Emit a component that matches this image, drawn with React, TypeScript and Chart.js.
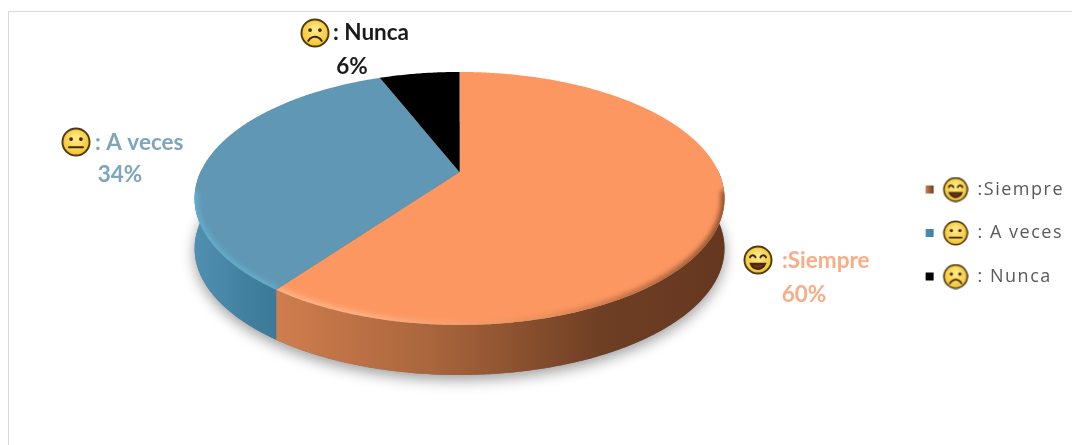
import React, { useEffect, useRef } from "react";
import { Chart, registerables } from "chart.js";

Chart.register(...registerables);

const categories = [":Siempre", ": A veces", ": Nunca"];
const percentages = [60, 34, 6];
const faces = ["smile", "neutral", "sad"];
const sliceColors = ["#FD9761", "#6097B4", "#000000"];
const labelColors = ["#F8AC88", "#7DA5BD", "#1A1A1A"];
const rimColors = [["#FFB488", "#E88E5A", "#8A4E2C"], ["#62AECD", "#5FB0D0", "#5FA6C6"], ["#000000", "#000000", "#000000"]];
const wallStops = [
  ["#D07D4E", "#A9653C", "#6F3F24", "#663720"],
  ["#4F8FB0", "#4A88AA", "#417F9F", "#3D7A9A"],
  ["#000000", "#000000", "#000000", "#000000"],
];

// Callout placement per slice: icon centre, caption start, percentage centre.
const calloutLayout = [
  { face: [758, 260], text: [782, 261], pct: [804, 295] },
  { face: [76, 142], text: [95, 143], pct: [120, 175] },
  { face: [315, 33], text: [333, 33], pct: [352, 67] },
];

// Tilted-disc projection, expressed relative to the radius Chart.js computes.
const tilt = { k: -0.2095, xScale: 1.222, yScale: 0.5705, lift: 0.288, depth: 0.236 };

type Pt = [number, number];

function project(arc: any, angle: number): Pt {
  const r = arc.outerRadius;
  const u = Math.cos(angle);
  const v = Math.sin(angle);
  const d = 1 + tilt.k * v;
  return [arc.x + (tilt.xScale * r * u) / d, arc.y - tilt.lift * r + (tilt.yScale * r * v) / d];
}

function arcPoints(arc: any, from: number, to: number): Pt[] {
  const n = Math.max(2, Math.ceil(Math.abs(to - from) / 0.01));
  const out: Pt[] = [];
  for (let i = 0; i <= n; i++) out.push(project(arc, from + ((to - from) * i) / n));
  return out;
}

function trace(ctx: CanvasRenderingContext2D, pts: Pt[], dy = 0, join = false) {
  pts.forEach(([x, y], i) => (i || join ? ctx.lineTo(x, y + dy) : ctx.moveTo(x, y + dy)));
}

function drawFace(ctx: CanvasRenderingContext2D, cx: number, cy: number, r: number, kind: string) {
  ctx.save();
  const g = ctx.createRadialGradient(cx, cy - r * 0.3, r * 0.2, cx, cy, r);
  g.addColorStop(0, "#FFE680");
  g.addColorStop(0.8, "#F7C83C");
  g.addColorStop(1, "#D99A20");
  ctx.fillStyle = g;
  ctx.strokeStyle = "#4A3B12";
  ctx.lineWidth = Math.max(1.2, r * 0.13);
  ctx.beginPath();
  ctx.arc(cx, cy, r - ctx.lineWidth / 2, 0, Math.PI * 2);
  ctx.fill();
  ctx.stroke();
  ctx.strokeStyle = "#3A2A10";
  ctx.fillStyle = "#3A2A10";
  ctx.lineWidth = Math.max(1.1, r * 0.14);
  ctx.lineCap = "round";
  if (kind === "smile") {
    for (const s of [-1, 1]) {
      ctx.beginPath();
      ctx.arc(cx + s * r * 0.36, cy - r * 0.12, r * 0.2, Math.PI * 1.1, Math.PI * 1.9);
      ctx.stroke();
    }
    ctx.beginPath();
    ctx.arc(cx, cy + r * 0.1, r * 0.52, Math.PI * 0.1, Math.PI * 0.9);
    ctx.closePath();
    ctx.fillStyle = "#7A2F14";
    ctx.fill();
    ctx.stroke();
  } else {
    for (const s of [-1, 1]) {
      ctx.beginPath();
      ctx.arc(cx + s * r * 0.34, cy - r * 0.2, r * 0.13, 0, Math.PI * 2);
      ctx.fill();
    }
    ctx.beginPath();
    if (kind === "neutral") {
      ctx.moveTo(cx - r * 0.48, cy + r * 0.36);
      ctx.lineTo(cx + r * 0.48, cy + r * 0.36);
    } else {
      ctx.arc(cx, cy + r * 0.78, r * 0.52, Math.PI * 1.15, Math.PI * 1.85);
    }
    ctx.stroke();
  }
  ctx.restore();
}

// Legend marker: small swatch followed by the slice's face icon.
function legendMarker(i: number): HTMLCanvasElement {
  const c = document.createElement("canvas");
  c.width = 44;
  c.height = 26;
  const ctx = c.getContext("2d")!;
  const g = ctx.createLinearGradient(1, 0, 9, 0);
  g.addColorStop(0, wallStops[i][0]);
  g.addColorStop(1, wallStops[i][2]);
  ctx.fillStyle = g;
  ctx.fillRect(1, 9, 8, 8);
  drawFace(ctx, 31, 13, 12.5, faces[i]);
  return c;
}

const tiltedPie = {
  id: "tiltedPie",
  afterLayout(chart: any) {
    // The legend clips to its box; widen it for the tracked-out text.
    chart.legend.width += 24;
    chart.legend.right += 24;
  },
  beforeDraw(chart: any) {
    // Applies to the legend text, which is painted before the datasets.
    chart.ctx.letterSpacing = "1.5px";
  },
  beforeDatasetsDraw(chart: any) {
    const ctx: CanvasRenderingContext2D = chart.ctx;
    ctx.letterSpacing = "0px";
    const arcs: any[] = chart.getDatasetMeta(0).data;
    const first = arcs[0];
    const depth = tilt.depth * first.outerRadius;
    const full = arcPoints(first, 0, Math.PI * 2);

    // Soft shadow cast by the disc's base.
    ctx.save();
    ctx.shadowColor = "rgba(0,0,0,0.38)";
    ctx.shadowBlur = 14;
    ctx.shadowOffsetY = 5;
    ctx.fillStyle = "#777";
    ctx.beginPath();
    trace(ctx, full, depth);
    ctx.closePath();
    ctx.fill();
    ctx.restore();

    // Side wall of the front-facing part of each slice.
    arcs.forEach((arc, i) => {
      const from = Math.max(arc.startAngle, -0.02);
      const to = Math.min(arc.endAngle, Math.PI + 0.02);
      if (to <= from) return;
      const pts = arcPoints(arc, from, to);
      const xs = pts.map((p) => p[0]);
      const x0 = Math.min(...xs);
      const x1 = Math.max(...xs);
      const g = ctx.createLinearGradient(x0, 0, x1, 0);
      wallStops[i].forEach((c, j) => g.addColorStop(i === 0 ? [0, 0.35, 0.72, 1][j] : j / 3, c));
      ctx.fillStyle = g;
      ctx.beginPath();
      trace(ctx, pts);
      trace(ctx, [...pts].reverse(), depth, true);
      ctx.closePath();
      ctx.fill();
    });

    // Top face of each slice with a soft bevel along the outer edge.
    arcs.forEach((arc, i) => {
      const pts = arcPoints(arc, arc.startAngle, arc.endAngle);
      const apex = [arc.x, arc.y - tilt.lift * arc.outerRadius] as Pt;
      ctx.save();
      ctx.beginPath();
      trace(ctx, [apex, ...pts]);
      ctx.closePath();
      ctx.fillStyle = sliceColors[i];
      ctx.fill();
      ctx.clip();
      const xs = full.map((p) => p[0]);
      const g = ctx.createLinearGradient(Math.min(...xs), 0, Math.max(...xs), 0);
      g.addColorStop(0, rimColors[i][0]);
      g.addColorStop(i === 0 ? 0.3 : 0.5, rimColors[i][0]);
      g.addColorStop(i === 0 ? 0.66 : 0.75, rimColors[i][1]);
      g.addColorStop(1, rimColors[i][2]);
      ctx.filter = "blur(2.5px)";
      ctx.strokeStyle = g;
      ctx.lineWidth = 7;
      ctx.beginPath();
      trace(ctx, pts.filter((p) => p[1] > 190));
      ctx.stroke();
      ctx.restore();
    });
    return false;
  },
  afterDraw(chart: any) {
    const ctx: CanvasRenderingContext2D = chart.ctx;
    ctx.save();
    ctx.textBaseline = "middle";
    categories.forEach((name, i) => {
      const spot = calloutLayout[i];
      drawFace(ctx, spot.face[0], spot.face[1], 14.5, faces[i]);
      ctx.font = "bold 22.5px Lato";
      ctx.fillStyle = labelColors[i];
      ctx.textAlign = "left";
      ctx.fillText(name, spot.text[0], spot.text[1]);
      ctx.textAlign = "center";
      ctx.fillText(`${percentages[i]}%`, spot.pct[0], spot.pct[1]);
    });
    ctx.restore();
  },
};

export default function App() {
  const canvasRef = useRef<HTMLCanvasElement>(null);

  useEffect(() => {
    const chart = new Chart(canvasRef.current!, {
      type: "pie",
      data: {
        labels: categories,
        datasets: [{ data: percentages, backgroundColor: sliceColors, borderWidth: 0 }],
      },
      options: {
        animation: false,
        responsive: false,
        events: [],
        layout: { padding: { top: 21, bottom: 0, left: 20, right: 10 } },
        plugins: {
          tooltip: { enabled: false },
          legend: {
            position: "right",
            labels: {
              font: { family: "'Open Sans'", size: 18 },
              color: "#595959",
              padding: 25.5,
              usePointStyle: true,
              pointStyleWidth: 44,
              generateLabels: () =>
                categories.map((text, i) => ({
                  text,
                  fontColor: "#595959",
                  pointStyle: legendMarker(i),
                  lineWidth: 0,
                  index: i,
                })),
            },
          },
        },
      },
      plugins: [tiltedPie],
    } as any);
    return () => chart.destroy();
  }, []);

  return (
    <div style={{ position: "fixed", left: 0, top: 0, width: 1072, height: 445, overflow: "hidden", background: "#fff" }}>
      <div style={{ position: "absolute", left: 8, top: 11, width: 1200, height: 600, border: "1px solid #D9D9D9" }} />
      <canvas ref={canvasRef} width={1072} height={445} style={{ position: "absolute", left: 0, top: 0 }} />
    </div>
  );
}
